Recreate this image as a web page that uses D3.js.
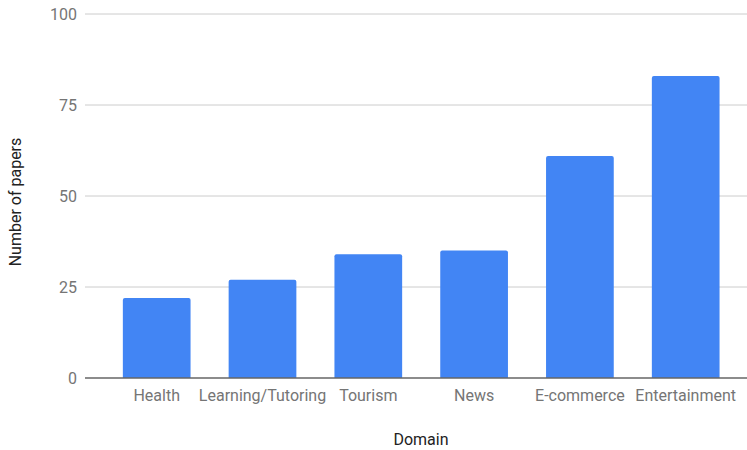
<!DOCTYPE html>
<html><head><meta charset="utf-8">
<script src="https://cdn.jsdelivr.net/npm/d3@7"></script>
<style>html,body{margin:0;padding:0;background:#fff;}</style>
</head><body>
<svg id="chart" width="747" height="450"></svg>
<script>
const categories = ["Health","Learning/Tutoring","Tourism","News","E-commerce","Entertainment"];
const values = [22, 27, 34, 35, 61, 83];
const yTicks = [0, 25, 50, 75, 100];

const svg = d3.select("#chart");
const font = "Roboto, Arial, sans-serif";
const fs = 16;
const gridLeft = 85, gridRight = 747;
const x = d3.scaleBand().domain(categories).range([103.8, 738.6]).paddingInner(0.36).paddingOuter(0.18);
const y = d3.scaleLinear().domain([0, 100]).range([378, 14]);

// gridlines
svg.append("g").selectAll("line").data(yTicks.filter(d => d !== 0)).join("line")
  .attr("x1", gridLeft).attr("x2", gridRight)
  .attr("y1", d => y(d)).attr("y2", d => y(d))
  .attr("stroke", "#cccccc").attr("stroke-width", 1);

// y tick labels
svg.append("g").selectAll("text").data(yTicks).join("text")
  .attr("x", 77).attr("y", d => y(d)).attr("dy", "0.35em")
  .attr("text-anchor", "end").attr("font-family", font).attr("font-size", fs)
  .attr("fill", "#757575").text(d => d);

// bars
svg.append("g").selectAll("path").data(values).join("path")
  .attr("fill", "#4285f4")
  .attr("d", (d, i) => {
    const x0 = x(categories[i]), w = x.bandwidth(), top = y(d), bot = y(0), r = 2;
    return `M${x0},${bot}V${top + r}Q${x0},${top} ${x0 + r},${top}H${x0 + w - r}Q${x0 + w},${top} ${x0 + w},${top + r}V${bot}Z`;
  });

// baseline
svg.append("line").attr("x1", gridLeft).attr("x2", gridRight)
  .attr("y1", y(0)).attr("y2", y(0)).attr("stroke", "#666666").attr("stroke-width", 1.5);

// x tick labels
svg.append("g").selectAll("text").data(categories).join("text")
  .attr("x", d => x(d) + x.bandwidth() / 2).attr("y", 401)
  .attr("text-anchor", "middle").attr("font-family", font).attr("font-size", fs)
  .attr("fill", "#757575").text(d => d);

// axis titles
svg.append("text").attr("x", 421).attr("y", 445).attr("text-anchor", "middle")
  .attr("font-family", font).attr("font-size", fs).attr("fill", "#222222").text("Domain");
svg.append("text").attr("transform", "translate(21,202) rotate(-90)").attr("text-anchor", "middle")
  .attr("font-family", font).attr("font-size", fs).attr("fill", "#222222").text("Number of papers");
</script>
</body></html>
